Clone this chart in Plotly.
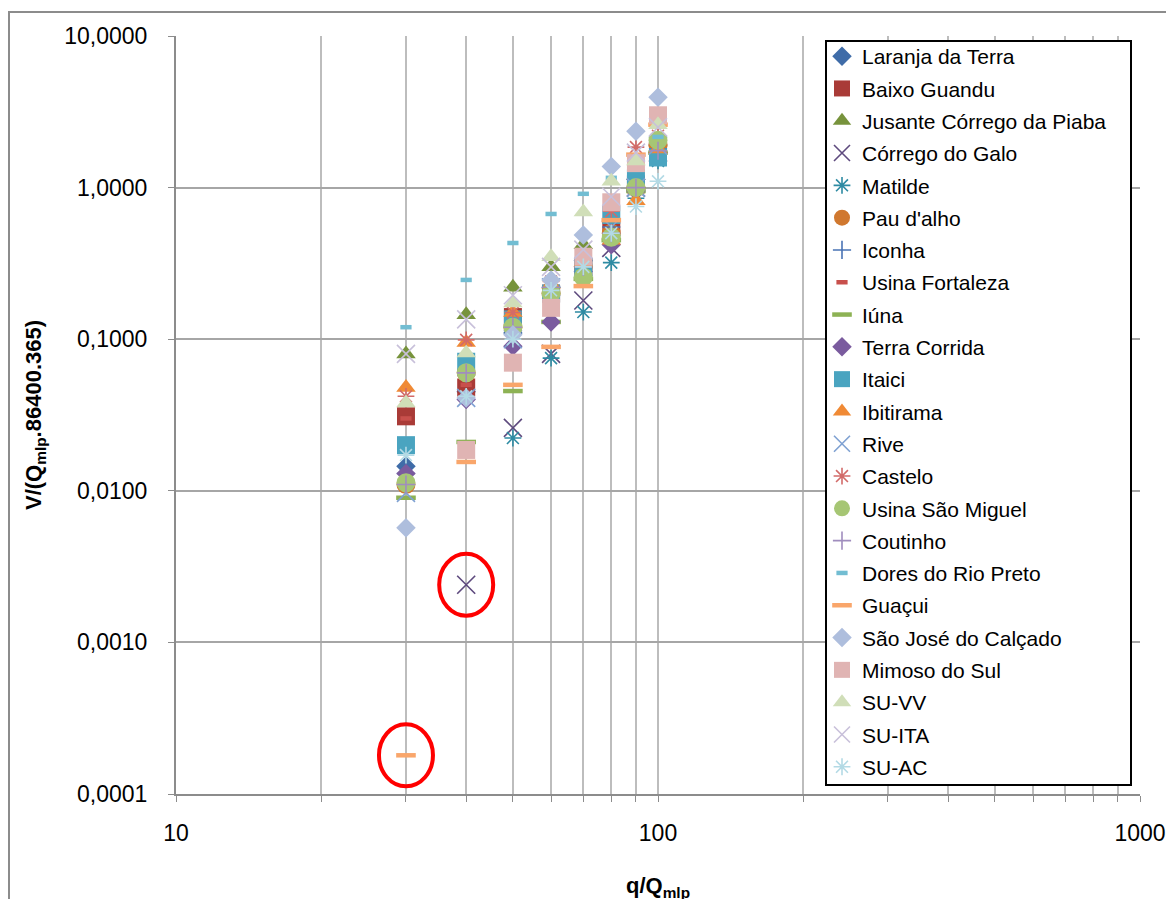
import plotly.graph_objects as go

# ---------------- data ----------------
x_vals = [30, 40, 50, 60, 70, 80, 90, 100]

series_names = [
    "Laranja da Terra", "Baixo Guandu", "Jusante Córrego da Piaba", "Córrego do Galo",
    "Matilde", "Pau d'alho", "Iconha", "Usina Fortaleza", "Iúna", "Terra Corrida",
    "Itaici", "Ibitirama", "Rive", "Castelo", "Usina São Miguel", "Coutinho",
    "Dores do Rio Preto", "Guaçui", "São José do Calçado", "Mimoso do Sul",
    "SU-VV", "SU-ITA", "SU-AC",
]

laranja_da_terra   = [0.0145, 0.045, 0.11, 0.22, 0.33, 0.60, 1.00, 1.70]
baixo_guandu       = [0.031, 0.048, 0.14, 0.20, 0.30, 0.55, 1.05, 1.80]
jusante_piaba      = [0.080, 0.145, 0.22, 0.30, 0.42, 0.65, 1.20, 2.00]
corrego_do_galo    = [None, 0.0024, 0.026, 0.080, 0.18, 0.40, 1.00, 1.70]
matilde            = [None, None, 0.0223, 0.075, 0.151, 0.32, 0.85, 1.50]
pau_dalho          = [0.011, 0.060, 0.12, 0.20, 0.30, 0.50, 1.00, 1.90]
iconha             = [0.013, 0.058, 0.12, 0.22, 0.33, 0.55, 1.00, 1.80]
usina_fortaleza    = [0.030, 0.050, 0.14, 0.19, 0.30, 0.50, 1.10, 1.90]
iuna               = [0.009, 0.021, 0.0455, 0.13, 0.25, 0.45, 0.95, 1.70]
terra_corrida      = [0.013, 0.040, 0.090, 0.130, 0.28, 0.42, 0.95, 1.70]
itaici             = [0.020, 0.071, 0.135, 0.20, 0.30, 0.66, 1.15, 1.58]
ibitirama          = [0.048, 0.095, 0.15, 0.23, 0.32, 0.45, 0.82, 1.80]
rive               = [0.0097, 0.041, 0.10, 0.22, 0.30, 0.55, 1.00, 1.90]
castelo            = [0.042, 0.099, 0.15, 0.24, 0.35, 0.70, 1.85, 2.20]
usina_sao_miguel   = [0.0113, 0.060, 0.12, 0.20, 0.257, 0.47, 1.00, 2.05]
coutinho           = [0.011, 0.060, 0.12, 0.22, 0.30, 0.50, 1.00, 1.75]
dores_rio_preto    = [0.120, 0.246, 0.431, 0.67, 0.91, 1.16, 1.50, 2.16]
guacui             = [0.00018, 0.0155, 0.050, 0.089, 0.224, 0.61, 1.65, 2.60]
sao_jose_calcado   = [0.0057, 0.041, 0.107, 0.246, 0.486, 1.38, 2.35, 3.95]
mimoso_do_sul      = [None, 0.0186, 0.070, 0.161, 0.35, 0.80, 1.45, 3.00]
su_vv              = [0.038, 0.081, 0.173, 0.35, 0.69, 1.10, 1.50, 2.60]
su_ita             = [0.080, 0.135, 0.195, 0.30, 0.39, 0.87, 1.70, 2.50]
su_ac              = [0.0172, 0.042, 0.10, 0.21, 0.30, 0.50, 0.75, 1.10]

series_values = [
    laranja_da_terra, baixo_guandu, jusante_piaba, corrego_do_galo, matilde,
    pau_dalho, iconha, usina_fortaleza, iuna, terra_corrida, itaici, ibitirama,
    rive, castelo, usina_sao_miguel, coutinho, dores_rio_preto, guacui,
    sao_jose_calcado, mimoso_do_sul, su_vv, su_ita, su_ac,
]

y_tick_vals = [0.0001, 0.001, 0.01, 0.1, 1, 10]
y_tick_text = ["0,0001", "0,0010", "0,0100", "0,1000", "1,0000", "10,0000"]
x_tick_vals = [10, 20, 30, 40, 50, 60, 70, 80, 90, 100,
               200, 300, 400, 500, 600, 700, 800, 900, 1000]
x_tick_text = ["10"] + [""] * 8 + ["100"] + [""] * 8 + ["1000"]

# highlighted outliers (x, y)
highlight_points = [(30, 0.00018), (40, 0.0024)]

# ---------------- styles ----------------
styles = [
    ("diamond", "#3F6CA8", 15, "fill"),
    ("square", "#A93B37", 18, "fill"),
    ("triangle-up", "#77933C", 17, "fill"),
    ("x-thin-open", "#5E4A7E", 18, "line"),
    ("asterisk-open", "#2E8BA3", 14, "line"),
    ("circle", "#D0782F", 19, "fill"),
    ("cross-thin-open", "#4A74B5", 13, "line"),
    ("line-ew-open", "#C8504C", 8, "dash"),
    ("line-ew-open", "#8DB254", 14, "dash"),
    ("diamond", "#7A5B9E", 15, "fill"),
    ("square", "#4AA4C0", 18, "fill"),
    ("triangle-up", "#F08A35", 17, "fill"),
    ("x-thin-open", "#7FA1D2", 18, "line"),
    ("asterisk-open", "#D26B69", 14, "line"),
    ("circle", "#A6C674", 19, "fill"),
    ("cross-thin-open", "#A08DBE", 13, "line"),
    ("line-ew-open", "#72BDD2", 8, "dash"),
    ("line-ew-open", "#F9A66B", 14, "dash"),
    ("diamond", "#AEBEDD", 15, "fill"),
    ("square", "#E0B4B3", 18, "fill"),
    ("triangle-up", "#D0DEB8", 17, "fill"),
    ("x-thin-open", "#C8C0DA", 18, "line"),
    ("asterisk-open", "#B3DAE5", 14, "line"),
]

fig = go.Figure()
for i, (name, vals) in enumerate(zip(series_names, series_values)):
    sym, col, size, kind = styles[i]
    if kind == "fill":
        marker = dict(symbol=sym, color=col, size=size, line=dict(width=0))
    elif kind == "line":
        marker = dict(symbol=sym, color=col, size=size, line=dict(width=1.6, color=col))
    else:
        marker = dict(symbol=sym, color=col, size=size, line=dict(width=4.5, color=col))
    fig.add_trace(go.Scatter(
        x=x_vals, y=vals, mode="markers", name=name, marker=marker,
        legendgroup=f"g{i}",
    ))

# page has an 8px body margin; all "page" pixel positions below are measured on the reference
OFF = 8
W, H = 1174 - OFF, 899 - OFF
L, T = 176 - OFF, 36 - OFF
R = W - (1140 - OFF)
B = H - (794 - OFF)
pw, ph = W - L - R, H - T - B
X_DECADES, Y_DECADES = 2.0, 5.0

def px2paper_x(px):
    return (px - OFF - L) / pw

def px2paper_y(py):
    return (H - B - (py - OFF)) / ph

shapes = [
    # outer chart border
    dict(type="rect", xref="paper", yref="paper",
         x0=px2paper_x(9), x1=px2paper_x(1200), y0=px2paper_y(930), y1=px2paper_y(12),
         line=dict(color="#8C8C8C", width=2), fillcolor="rgba(0,0,0,0)", layer="below"),
    # legend box
    dict(type="rect", xref="paper", yref="paper",
         x0=px2paper_x(826), x1=px2paper_x(1131), y0=px2paper_y(785), y1=px2paper_y(41),
         line=dict(color="black", width=2), fillcolor="white", layer="above"),
]
# red ellipses around outliers: radius given in pixels, converted via axis scale
rx_px, ry_px = 27, 31
for (hx, hy) in highlight_points:
    fx = 10 ** (rx_px * X_DECADES / pw)
    fy = 10 ** (ry_px * Y_DECADES / ph)
    shapes.append(dict(type="circle", xref="x", yref="y",
                       x0=hx / fx, x1=hx * fx, y0=hy / fy, y1=hy * fy,
                       line=dict(color="#FF0000", width=4), layer="above"))

font_family = "Liberation Sans, Arial, sans-serif"

fig.update_layout(
    width=W, height=H,
    margin=dict(l=L, r=R, t=T, b=B, autoexpand=False),
    paper_bgcolor="white", plot_bgcolor="white",
    font=dict(family=font_family, color="black", size=20),
    showlegend=True,
    legend=dict(
        x=px2paper_x(822), y=px2paper_y(36), xanchor="left", yanchor="top",
        bgcolor="rgba(0,0,0,0)", borderwidth=0,
        font=dict(size=21, family=font_family, color="black"),
        tracegroupgap=2, itemsizing="trace",
    ),
    shapes=shapes,
    annotations=[
        dict(text="<b>V/(Q<sub>mlp</sub>.86400.365)</b>", xref="paper", yref="paper",
             x=px2paper_x(35), y=px2paper_y(415), textangle=-90, showarrow=False,
             xanchor="center", yanchor="middle", font=dict(size=22, family=font_family)),
        dict(text="<b>q/Q<sub>mlp</sub></b>", xref="paper", yref="paper",
             x=px2paper_x(658), y=px2paper_y(887), showarrow=False,
             xanchor="center", yanchor="middle", font=dict(size=22, family=font_family)),
    ],
)

fig.update_xaxes(
    type="log", range=[1, 3], tickvals=x_tick_vals, ticktext=x_tick_text,
    showgrid=True, gridcolor="#BDBDBD", gridwidth=2,
    showline=True, linecolor="#8C8C8C", linewidth=2,
    ticks="outside", ticklen=6, tickcolor="#8C8C8C", tickwidth=1,
    ticklabelstandoff=11, tickfont=dict(size=23, family=font_family),
    zeroline=False, automargin=False,
)
fig.update_yaxes(
    type="log", range=[-4, 1], tickvals=y_tick_vals, ticktext=y_tick_text,
    showgrid=True, gridcolor="#A6A6A6", gridwidth=2,
    showline=True, linecolor="#8C8C8C", linewidth=2,
    ticks="outside", ticklen=6, tickcolor="#8C8C8C", tickwidth=1,
    ticklabelstandoff=16, tickfont=dict(size=23, family=font_family),
    zeroline=False, automargin=False,
)

fig.write_html("out.html")
